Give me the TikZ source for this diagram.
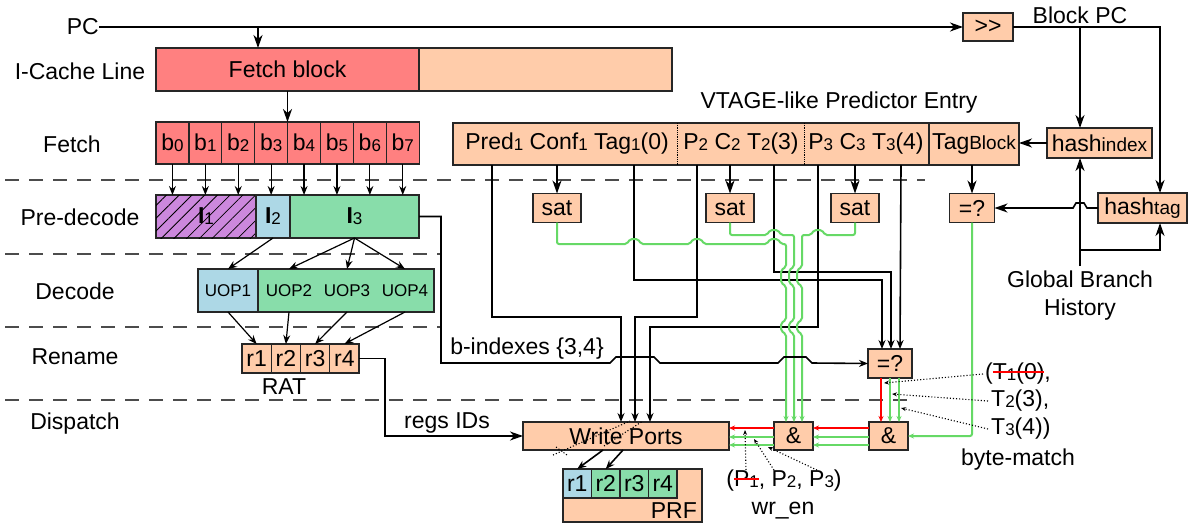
\documentclass[tikz,border=0pt]{standalone}
\usepackage{fontspec}
\setmainfont{Liberation Sans}
\usetikzlibrary{arrows.meta,patterns.meta}

\definecolor{salmon}{HTML}{FF8080}
\definecolor{peach}{HTML}{FFCCAA}
\definecolor{lilac}{HTML}{CC88DD}
\definecolor{skyb}{HTML}{ADD8E6}
\definecolor{mint}{HTML}{88DDAA}
\definecolor{wiregreen}{HTML}{66D966}

\newcommand{\lsub}[1]{\raisebox{-1pt}{\fontsize{17}{17}\selectfont #1}}
\newcommand{\wsub}[1]{{\fontsize{19}{19}\selectfont #1}}
\newsavebox{\strkbox}
\newcommand{\strk}[1]{\sbox{\strkbox}{#1}\usebox{\strkbox}\llap{\textcolor{red}{\rule[0.3em]{\wd\strkbox}{1.8pt}}}}
% hops where a wire crosses another one
\newcommand{\hopr}[2]{-- (#1-7,#2) -- (#1-4,#2-5) -- (#1+4,#2-5) -- (#1+7,#2)}
\newcommand{\hopl}[2]{-- (#1+7,#2) -- (#1+4,#2-5) -- (#1-4,#2-5) -- (#1-7,#2)}
\newcommand{\hopd}[3]{-- (#1,#2) -- (#1-5,#2+3) -- (#1-5,#3-3) -- (#1,#3)}

\begin{document}
\begin{tikzpicture}[x=1pt,y=-1pt, font=\fontsize{23}{28}\selectfont,
  box/.style={draw=black!85, line width=1.2pt, inner sep=0pt, outer sep=0pt},
  nw/.style={box, anchor=north west},
  lbl/.style={inner sep=0pt},
  wire/.style={line width=1.6pt},
  arrB/.style={wire, -{Stealth[length=13pt,width=9pt,inset=4pt]}},
  arrS/.style={wire, -{Stealth[length=9pt,width=7pt,inset=3pt]}},
  arrF/.style={line width=1.2pt, -{Stealth[length=9pt,width=7pt,inset=3pt]}},
  arrT/.style={-{Stealth[length=6pt,width=5pt]}},
  sep/.style={draw=black!70, line width=1.4pt, dash pattern=on 14pt off 10pt},
  gw/.style={draw=wiregreen, line width=2pt, rounded corners=2pt},
  rw/.style={draw=red, line width=2pt},
  note/.style={dotted, line width=1.1pt, -{Stealth[length=5pt,width=4pt]}}]

\useasboundingbox[fill=white] (0,0) rectangle (1198,527);

% stage borders
\draw[sep] (5,180) -- (925,180);
\draw[sep] (5,254) -- (441,254);
\draw[sep] (5,327) -- (441,327);
\draw[sep] (5,400) -- (910,400);

% stage labels
\node[lbl, anchor=east] (pc) at (99,27) {PC};
\node[lbl] (lcache) at (80,71) {I-Cache Line};
\node[lbl] (lfetch) at (72,144) {Fetch};
\node[lbl] (lpre) at (80,217) {Pre-decode};
\node[lbl] (ldec) at (75,291) {Decode};
\node[lbl] (lren) at (75,357) {Rename};
\node[lbl] (ldis) at (75,424) {Dispatch};

% fetch
\node[nw, fill=salmon, minimum width=263pt, minimum height=43pt] (fblock) at (156,48) {Fetch block};
\node[nw, fill=peach, minimum width=253pt, minimum height=43pt] (crest) at (419,48) {};
\foreach \i in {0,...,7}
  \node[nw, fill=salmon, minimum width=32.9pt, minimum height=42pt] (b\i) at (156+32.9*\i,122) {b\lsub{\i}};

% pre-decode
\node[nw, fill=lilac, postaction={pattern={Lines[angle=45,distance=9pt,line width=0.8pt]}}, minimum width=100pt, minimum height=43pt] (i1) at (156,195) {\textbf{I}\lsub{1}};
\node[nw, fill=skyb, minimum width=34pt, minimum height=43pt] (i2) at (256,195) {\textbf{I}\lsub{2}};
\node[nw, fill=mint, minimum width=129pt, minimum height=43pt] (i3) at (290,195) {\textbf{I}\lsub{3}};

% decode
\node[nw, fill=skyb, minimum width=60pt, minimum height=43pt, font=\fontsize{17}{20}\selectfont] (uop1) at (198,269) {UOP1};
\node[nw, fill=mint, minimum width=176pt, minimum height=43pt] (uops) at (258,269) {};
\foreach \n/\x in {2/289,3/347,4/405}
  \node[lbl, font=\fontsize{17}{20}\selectfont] (uop\n) at (\x,291) {UOP\n};

% rename
\foreach \n/\x in {1/242,2/271.25,3/300.5,4/329.75}
  \node[nw, fill=peach, minimum width=29.25pt, minimum height=29pt] (r\n) at (\x,344) {r\n};
\node[lbl] (rat) at (284,387) {RAT};

% dispatch
\node[nw, fill=peach, minimum width=206pt, minimum height=28pt] (wp) at (523,422) {Write Ports};
\node[nw, fill=peach, minimum width=139pt, minimum height=53pt] (prf) at (563,469) {};
\node[lbl, anchor=south east] (prftxt) at (697,519) {PRF};
\node[nw, fill=skyb, minimum width=28.5pt, minimum height=29pt] (pr1) at (563,469) {r1};
\foreach \n/\x in {2/591.5,3/620,4/648.5}
  \node[nw, fill=mint, minimum width=28.5pt, minimum height=29pt] (pr\n) at (\x,469) {r\n};
\node[lbl] (regs) at (447,423) {regs IDs};

% predictor entry
\node[lbl] (vtage) at (839,103) {VTAGE-like Predictor Entry};
\node[nw, fill=peach, minimum width=566pt, minimum height=42pt] (entry) at (453,123) {};
\draw[densely dotted, line width=0.8pt] (677,123) -- (677,165);
\draw[densely dotted, line width=0.8pt] (804,123) -- (804,165);
\draw[line width=1.2pt, black!85] (929,123) -- (929,165);
\node[lbl] (e1) at (567,144) {Pred\lsub{1} Conf\lsub{1} Tag\lsub{1}(0)};
\node[lbl] (e2) at (741,144) {P\lsub{2} C\lsub{2} T\lsub{2}(3)};
\node[lbl] (e3) at (866,144) {P\lsub{3} C\lsub{3} T\lsub{3}(4)};
\node[lbl] (e4) at (974,144) {Tag\wsub{Block}};

\foreach \n/\x in {1/557,2/730,3/855}
  \node[box, fill=peach, minimum width=48pt, minimum height=29pt] (sat\n) at (\x,208) {sat};
\node[box, fill=peach, minimum width=45pt, minimum height=29pt] (eqtag) at (972,208) {=?};
\node[box, fill=peach, minimum width=105pt, minimum height=30pt] (hidx) at (1099.5,143) {hash\wsub{index}};
\node[box, fill=peach, minimum width=89pt, minimum height=30pt] (htag) at (1142.5,208) {hash\wsub{tag}};
\node[box, fill=peach, minimum width=50pt, minimum height=28pt] (shr) at (988,27) {>{}>};
\node[lbl] (bpc) at (1080,15) {Block PC};
\node[lbl, align=center] (ghist) at (1080,296) {Global Branch\\History};

\node[box, fill=peach, minimum width=44pt, minimum height=29pt] (eqb) at (890,363.5) {=?};
\node[box, fill=peach, minimum width=39pt, minimum height=28pt] (and1) at (793.5,436) {\&};
\node[box, fill=peach, minimum width=39pt, minimum height=28pt] (and2) at (888.5,436) {\&};

\node[lbl, anchor=west] (tn1) at (985,374) {(\strk{T\lsub{1}(0)},};
\node[lbl, anchor=west] (tn2) at (991,401) {T\lsub{2}(3),};
\node[lbl, anchor=west] (tn3) at (991,429) {T\lsub{3}(4))};
\node[lbl] (bmatch) at (1018,460) {byte-match};
\node[lbl] (pn) at (784,481) {(\strk{P\lsub{1}}, P\lsub{2}, P\lsub{3})};
\node[lbl] (wren) at (783,511) {wr\_en};

% front end
\coordinate (pctap) at (258,27);
\draw[arrB] (pc.east) -- (shr.west);
\draw[arrB] (pctap) -- (pctap |- fblock.north);
\draw[arrB] (fblock.south) -- (fblock.south |- b0.north);
\foreach \i in {0,...,7}
  \draw[arrF] (b\i.south) -- (b\i.south |- i1.north);
\draw[arrF] (i2.south) -- (uop1.north);
\foreach \n in {2,3,4}
  \draw[arrF] (i3.south) -- (uop\n |- uops.north);
\draw[arrF] (uop1.south) -- (r1.north);
\foreach \n in {2,3,4}
  \draw[arrF] (uop\n |- uops.south) -- (r\n.north);
\draw[arrB] (r4.east) -- ++(26,0) |- (wp.west);
\draw[arrS] ([xshift=-23pt]wp.south) -- (pr1.north);
\draw[arrS] ([xshift=-3pt]wp.south) -- (pr2.north);
\draw[dotted, line width=1.1pt] (553,455) -- (630,421);
\draw[dotted, line width=1.1pt] (604,446) -- (643,421);
\draw[dotted, line width=1.1pt] (556,447) -- (567,455);

% block PC and hashes
\coordinate (bpctap) at (1080,27);
\coordinate (ghbot) at (1080,266);
\coordinate (ghtap) at (1080,250);
\draw[arrB] (shr.east) -| ([xshift=17.5pt]htag.north);
\draw[arrB] (bpctap) -- (bpctap |- hidx.north);
\draw[arrB] (ghbot) -- (ghbot |- hidx.south);
\draw[arrB] (ghtap) -| ([xshift=17.5pt]htag.south);
\draw[arrB] (htag.west) \hopl{1080}{208} -- (eqtag.east);
\draw[arrB] (hidx.west) -- (hidx.west -| entry.east);

% fields of the entry
\coordinate (tp1) at (492,165);
\coordinate (tt1) at (634,165);
\coordinate (tp2) at (697,165);
\coordinate (tt2) at (774,165);
\coordinate (tp3) at (818,165);
\coordinate (tt3) at (901,165);
\coordinate (wi1) at (621,422);
\coordinate (wi2) at (635,422);
\coordinate (wi3) at (650,422);
\coordinate (qi1) at (882,349);
\coordinate (qi2) at (891,349);
\coordinate (qi3) at (900,349);
\foreach \n in {1,2,3}
  \draw[arrB] (sat\n |- entry.south) -- (sat\n.north);
\draw[arrB] (eqtag |- entry.south) -- (eqtag.north);
\draw[arrS] (tp1) -- (492,317) -- (621,317) -- (wi1);
\draw[arrS] (tt1) -- (634,280) -- (882,280) -- (qi1);
\draw[arrS] (tp2) -- (697,317) -- (635,317) -- (wi2);
\draw[arrS] (tt2) -- (774,272) -- (891,272) -- (qi2);
\draw[arrS] (tp3) -- (818,327) -- (650,327) -- (wi3);
\draw[arrS] (tt3) -- (qi3);

% confidence wires
\coordinate (ai1) at (786,422);
\coordinate (ai2) at (794,422);
\coordinate (ai3) at (802,422);
\draw[gw, arrT] (sat1.south) -- (557,244) \hopr{634}{244} \hopr{697}{244} \hopr{774}{244} -- (786,244) \hopd{786}{267}{286} \hopd{786}{320}{334} -- (ai1);
\draw[gw, arrT] (sat2.south) -- (730,235) \hopr{774}{235} -- (794,235) \hopd{794}{267}{286} \hopd{794}{320}{334} -- (ai2);
\draw[gw, arrT] (sat3.south) -- (855,235) \hopl{818}{235} -- (802,235) \hopd{802}{267}{286} \hopd{802}{320}{334} -- (ai3);
\draw[gw, arrT] (eqtag.south) |- (and2.east);

% b-indexes
\draw[arrS] (i3.east) -| (441,363) -- (610,363) -- (616,357) -- (654,357) -- (660,363) -- (778,363) -- (784,357) -- (806,357) -- (812,363) -- (eqb.west);
\node[lbl] (bidx) at (527,349) {b-indexes \{3,4\}};

% byte-match and enables
\coordinate (bi1) at (881,422);
\coordinate (bi2) at (890,422);
\coordinate (bi3) at (899,422);
\coordinate (yr) at (0,428);
\coordinate (yg1) at (0,437);
\coordinate (yg2) at (0,445);
\draw[rw, arrT] (bi1 |- eqb.south) -- (bi1);
\draw[gw, arrT] (bi2 |- eqb.south) -- (bi2);
\draw[gw, arrT] (bi3 |- eqb.south) -- (bi3);
\draw[rw, arrT] (and2.west |- yr) -- (and1.east |- yr);
\draw[gw, arrT] (and2.west |- yg1) -- (and1.east |- yg1);
\draw[gw, arrT] (and2.west |- yg2) -- (and1.east |- yg2);
\draw[rw, arrT] (and1.west |- yr) -- (wp.east |- yr);
\draw[gw, arrT] (and1.west |- yg1) -- (wp.east |- yg1);
\draw[gw, arrT] (and1.west |- yg2) -- (wp.east |- yg2);

% annotations
\coordinate (n1) at (884,383);
\coordinate (n2) at (892,394);
\coordinate (n3) at (901,408);
\coordinate (m1) at (745,430);
\coordinate (m2) at (754,439);
\coordinate (m3) at (768,447);
\draw[note] ([xshift=-2pt]tn1.west) -- (n1);
\draw[note] ([xshift=-3pt]tn2.west) -- (n2);
\draw[note] ([xshift=-3pt]tn3.west) -- (n3);
\draw[note] ([xshift=-38pt]pn.north) -- (m1);
\draw[note] ([xshift=-10pt]pn.north) -- (m2);
\draw[note] ([xshift=33pt]pn.north) -- (m3);

\end{tikzpicture}
\end{document}
